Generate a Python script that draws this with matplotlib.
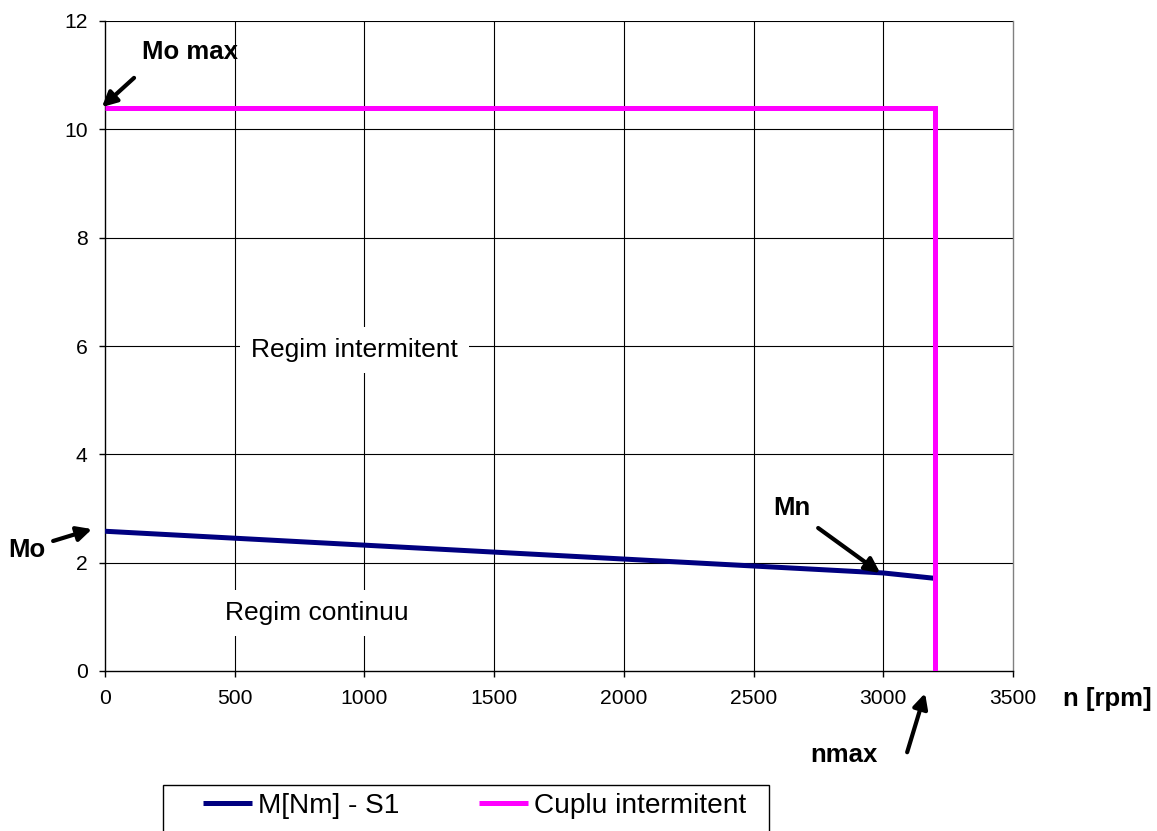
import matplotlib
matplotlib.use("Agg")
import matplotlib.pyplot as plt
from matplotlib.patches import Rectangle

plt.rcParams['font.family'] = ['Liberation Sans', 'DejaVu Sans']

# Data
speed_s1 = [0, 3000, 3200]
torque_s1 = [2.58, 1.81, 1.71]
speed_int = [0, 3200, 3200]
torque_int = [10.4, 10.4, 0]
x_ticks = [0, 500, 1000, 1500, 2000, 2500, 3000, 3500]
y_ticks = [0, 2, 4, 6, 8, 10, 12]
series_labels = ["M[Nm] - S1", "Cuplu intermitent"]

W, H = 1157, 831
fig = plt.figure(figsize=(W / 100, H / 100), dpi=100)
ax = fig.add_axes([105 / W, 1 - 671 / H, (1013 - 105) / W, (671 - 21) / H])

ax.set_xlim(0, 3500)
ax.set_ylim(0, 12)
ax.set_xticks(x_ticks)
ax.set_yticks(y_ticks)
ax.grid(True, color='black', linewidth=0.8, zorder=0)
ax.set_axisbelow(True)
ax.get_xgridlines()[-1].set_visible(False)
ax.get_xgridlines()[0].set_visible(False)
ax.get_ygridlines()[0].set_visible(False)

for s in ['left', 'bottom']:
    ax.spines[s].set_color('black')
    ax.spines[s].set_linewidth(1.0)
ax.spines['right'].set_color('#808080')
ax.spines['right'].set_linewidth(1.0)
ax.spines['top'].set_visible(False)
ax.tick_params(axis='both', direction='out', length=4.5, width=1.0,
               labelsize=15.2, color='black')
ax.tick_params(axis='x', pad=8.5)
ax.tick_params(axis='y', pad=8)

l1, = ax.plot(speed_s1, torque_s1, color='#000080', linewidth=3.6,
              solid_capstyle='butt', zorder=3)
l2, = ax.plot(speed_int, torque_int, color='#FF00FF', linewidth=3.6,
              solid_capstyle='butt', solid_joinstyle='miter', zorder=4)

# Region labels
bbox = dict(facecolor='white', edgecolor='none', pad=8)
ax.text(960, 5.93, "Regim intermitent", fontsize=19, ha='center', va='center',
        bbox=bbox, zorder=2)
ax.text(817, 1.07, "Regim continuu", fontsize=19, ha='center', va='center',
        bbox=bbox, zorder=2)

ap = dict(arrowstyle='-|>', lw=3, color='black', mutation_scale=22,
          shrinkA=0, shrinkB=0)

def arrow(tail, tip):
    ax.annotate("", xy=tip, xytext=tail, arrowprops=ap, annotation_clip=False,
                zorder=6)

arrow((112, 10.95), (-12, 10.41))
arrow((-200, 2.40), (-50, 2.62))
arrow((2749, 2.64), (2988, 1.81))
arrow((3092, -1.50), (3161, -0.41))

bold = dict(fontsize=18.5, fontweight='bold', ha='center', va='center',
            clip_on=False)
ax.text(328, 11.43, "Mo max", **bold)
ax.text(-301, 2.23, "Mo", **bold)
ax.text(2648, 3.01, "Mn", **bold)
ax.text(2850, -1.55, "nmax", **bold)
ax.text(3863, -0.52, "n [rpm]", **bold)

# Legend
leg = fig.legend([l1, l2], series_labels, ncol=2, frameon=False,
                 loc='center left', bbox_to_anchor=(203 / W, 1 - 806 / H),
                 fontsize=20.2, handlelength=1.75, handletextpad=0.2,
                 columnspacing=2.85, borderpad=0, borderaxespad=0)
for h in leg.legend_handles:
    h.set_linewidth(3.6)
fig.add_artist(Rectangle((163 / W, 0 - 0.01), (769 - 163) / W, (831 - 785) / H + 0.01,
                         transform=fig.transFigure, fill=False,
                         edgecolor='black', linewidth=1.0))

fig.savefig("out.png", dpi=100)
